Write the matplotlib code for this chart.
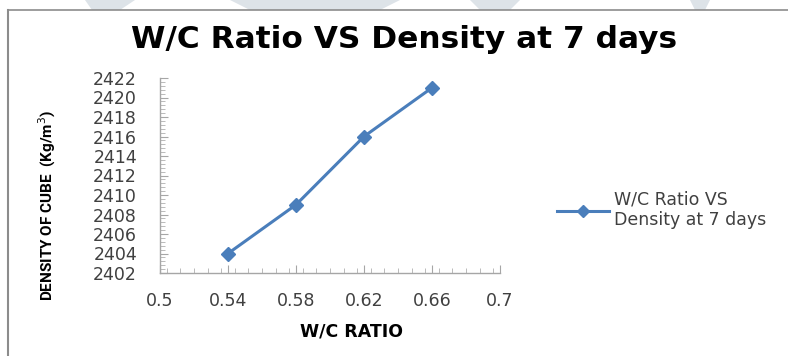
import matplotlib
matplotlib.use("Agg")
import matplotlib.pyplot as plt
from matplotlib.ticker import MultipleLocator, FixedLocator
from matplotlib.lines import Line2D
from matplotlib.patches import Polygon

wc_ratio = [0.54, 0.58, 0.62, 0.66]
density = [2404, 2409, 2416, 2421]
series_label = "W/C Ratio VS\nDensity at 7 days"
x_ticks = [0.5, 0.54, 0.58, 0.62, 0.66, 0.7]
x_tick_labels = ["0.5", "0.54", "0.58", "0.62", "0.66", "0.7"]
y_ticks = list(range(2402, 2423, 2))

W, H = 788, 356
fig = plt.figure(figsize=(W / 100, H / 100), dpi=100)
fig.patch.set_facecolor("white")

# faint watermark shapes at the top
for pts in [[(85, 0), (135, 0), (120, 10), (92, 10)],
            [(230, 0), (400, 0), (380, 10), (250, 10)],
            [(470, 0), (520, 0), (510, 10), (480, 10)],
            [(690, 0), (710, 0), (705, 10), (695, 10)]]:
    fig.patches.append(Polygon([(x / W, 1 - y / H) for x, y in pts], closed=True,
                               transform=fig.transFigure, facecolor="#dde3e8",
                               edgecolor="none", zorder=0))
# chart frame (left and top edges visible)
fig.add_artist(Line2D([8 / W, 8 / W], [0, 1 - 10 / H], transform=fig.transFigure,
                      color="#8c8c8c", lw=1.5))
fig.add_artist(Line2D([8 / W, 1], [1 - 10 / H, 1 - 10 / H], transform=fig.transFigure,
                      color="#8c8c8c", lw=1.2))

ax = fig.add_axes([160 / W, 1 - 273 / H, 340 / W, 195 / H])
color = "#4a7ebb"
ax.plot(wc_ratio, density, color=color, lw=2.2, marker="D", markersize=7,
        markerfacecolor=color, markeredgecolor=color)
ax.set_xlim(0.5, 0.7)
ax.set_ylim(2402, 2422)
ax.xaxis.set_major_locator(FixedLocator(x_ticks))
ax.set_xticklabels(x_tick_labels)
ax.xaxis.set_minor_locator(MultipleLocator(0.008))
ax.yaxis.set_major_locator(FixedLocator(y_ticks))
ax.yaxis.set_minor_locator(MultipleLocator(0.4))

for s in ["top", "right"]:
    ax.spines[s].set_visible(False)
for s in ["left", "bottom"]:
    ax.spines[s].set_color("#a6a6a6")
    ax.spines[s].set_linewidth(1.0)

tick_font = "DejaVu Sans"
ax.tick_params(axis="both", which="major", direction="in", length=6, width=0.8,
               color="#a6a6a6", labelsize=12.5, labelcolor="#404040")
ax.tick_params(axis="both", which="minor", direction="in", length=3.5, width=0.6,
               color="#b0b0b0")
ax.tick_params(axis="y", which="major", pad=16.5)
ax.tick_params(axis="x", which="major", pad=13.5)
for lab in ax.get_xticklabels() + ax.get_yticklabels():
    lab.set_fontfamily(tick_font)

fig.text(404 / W, 1 - 40 / H, "W/C Ratio VS Density at 7 days", ha="center", va="center",
         fontsize=22.5, fontweight="bold", family="DejaVu Sans", color="black")
fig.text(47 / W, 1 - 205 / H, "DENSITY OF CUBE  (Kg/m$^3$)", rotation=90, ha="center",
         va="center", fontsize=11, fontweight="bold", family="Roboto",
         color="black")
fig.text(352 / W, 1 - 332 / H, "W/C RATIO", ha="center", va="center", fontsize=12.5,
         fontweight="bold", family="DejaVu Sans", color="black")

# legend
ax.legend([Line2D([0], [0], color=color, lw=2.2, marker="D", markersize=6,
                  markerfacecolor=color, markeredgecolor=color)],
          [series_label], loc="center left", bbox_to_anchor=(541 / W, 1 - 210 / H),
          bbox_transform=fig.transFigure, frameon=False, handlelength=3.0,
          handletextpad=0.3, prop={"family": "DejaVu Sans", "size": 12.5},
          labelcolor="#404040")

fig.savefig("out.png", dpi=100, facecolor="white")
